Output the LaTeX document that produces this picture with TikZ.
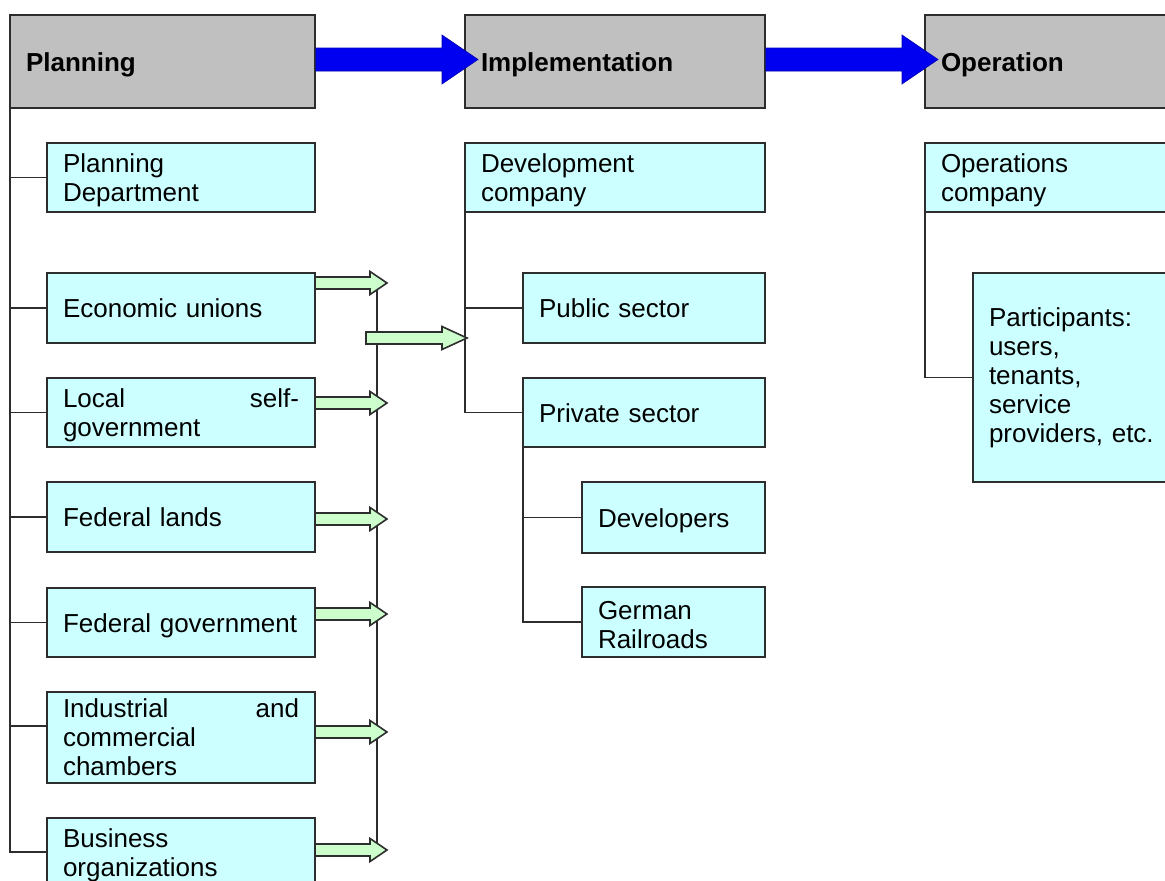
\documentclass[tikz,border=0pt]{standalone}
\usepackage{fontspec}
\setmainfont{Liberation Sans}
\usetikzlibrary{calc}

\definecolor{phasegray}{RGB}{192,192,192}
\definecolor{unitcyan}{RGB}{204,255,255}
\definecolor{feedgreen}{RGB}{204,255,204}
\definecolor{flowblue}{RGB}{0,0,240}
\definecolor{linegray}{RGB}{45,45,45}

\newcommand{\boxfont}{\fontsize{26pt}{29pt}\selectfont}

\tikzset{
  box/.style={draw=linegray,line width=1.8pt,outer sep=0pt,inner xsep=16pt,inner ysep=0pt,anchor=north west,align=left,font=\boxfont},
  phase/.style={box,fill=phasegray,font=\boxfont\bfseries,minimum height=93pt,text height=19pt,text depth=0pt},
  unit/.style={box,fill=unitcyan,minimum height=69pt},
  oneline/.style={text height=19pt,text depth=0pt},
  twoline/.style={execute at begin node={\rule{0pt}{25pt}}},
  conn/.style={draw=linegray,line width=1.8pt},
  flow/.style={fill=flowblue,draw=flowblue!75!black,line width=0.6pt},
  feed/.style={fill=feedgreen,draw=linegray,line width=1.6pt}
}

%% green feeder arrow: start, length, head length
\newcommand{\feedarrow}[3]{\draw[feed](#1)++(0,-6)--++({#2-#3},0)--++(0,-5.5)--++(#3,11.5)--++(-#3,11.5)--++(0,-5.5)--++({#3-#2},0)--cycle;}
%% blue phase arrow between two headers
\newcommand{\flowarrow}[2]{\draw[flow]($(#1.east)+(0.9,-13.5)$)--($(#2.west)+(-23,-13.5)$)--($(#2.west)+(-23,-26.5)$)--($(#2.west)+(13,-2)$)--($(#2.west)+(-23,22.5)$)--($(#2.west)+(-23,9.5)$)--($(#1.east)+(0.9,9.5)$)--cycle;}

\begin{document}
\begin{tikzpicture}[x=1pt,y=-1pt]
\useasboundingbox(0,0)rectangle(1165,881);
\clip(0,0)rectangle(1165,881);

%% phases
\node[phase,text width=273pt](plan)at(10,15){Planning};
\node[phase,text width=268pt](impl)at(465,15){Implementation};
\node[phase,text width=223pt](oper)at(925,15){Operation};

%% planning
\node[unit,twoline,text width=236pt](pdep)at(47,143){Planning\\Department};
\node[unit,oneline,text width=236pt,minimum height=70pt](eco)at(47,273){Economic unions};
\node[unit,twoline,text width=236pt](local)at(47,378){Local\hfill self-\\government};
\node[unit,oneline,text width=236pt,minimum height=70pt](flands)at(47,482){Federal lands};
\node[unit,oneline,text width=236pt](fgov)at(47,588){Federal government};
\node[unit,text width=236pt,minimum height=91pt](ind)at(47,692){Industrial\hfill and\\commercial\\chambers};
\node[unit,twoline,text width=236pt,minimum height=68pt](bus)at(47,818){Business\\organizations};

%% implementation
\node[unit,twoline,text width=268pt](devco)at(465,143){Development\\company};
\node[unit,oneline,text width=210pt,minimum height=70pt](pub)at(523,273){Public sector};
\node[unit,oneline,text width=210pt](priv)at(523,378){Private sector};
\node[unit,oneline,text width=151pt,minimum height=71pt](dev)at(582,482){Developers};
\node[unit,twoline,text width=151pt,minimum height=70pt](rail)at(582,587){German\\Railroads};

%% operation
\node[unit,twoline,text width=223pt](opco)at(925,143){Operations\\company};
\node[unit,text width=175pt,minimum height=209pt](part)at(973,273){Participants:\\users,\\tenants,\\service\\providers, etc.};

%% tree lines
\foreach \b in {pdep,eco,local,flands,fgov,bus}
  \draw[conn](plan.south west)|-(\b.west);
\draw[conn](plan.south west)|-([yshift=11.5pt]ind.west);
\draw[conn](devco.south west)|-(pub.west);
\draw[conn](devco.south west)|-(priv.west);
\draw[conn](priv.south west)|-(dev.west);
\draw[conn](priv.south west)|-(rail.west);
\draw[conn](opco.south west)|-(part.west);

%% collector
\coordinate(bustop)at(377,289);
\coordinate(busend)at(377,850);
\coordinate(feedtail)at(366,338);
\draw[conn](bustop)--(busend);

\feedarrow{$(eco.east)+(0,-25)$}{72}{17}
\feedarrow{$(local.east)+(0,-9.5)$}{72}{17}
\feedarrow{$(flands.east)+(0,2)$}{72}{17}
\feedarrow{$(fgov.east)+(0,-8.5)$}{72}{17}
\feedarrow{$(ind.east)+(0,-5.5)$}{72}{17}
\feedarrow{$(bus.east)+(0,-2)$}{72}{17}
\feedarrow{feedtail}{101}{25}

\flowarrow{plan}{impl}
\flowarrow{impl}{oper}
\end{tikzpicture}
\end{document}
